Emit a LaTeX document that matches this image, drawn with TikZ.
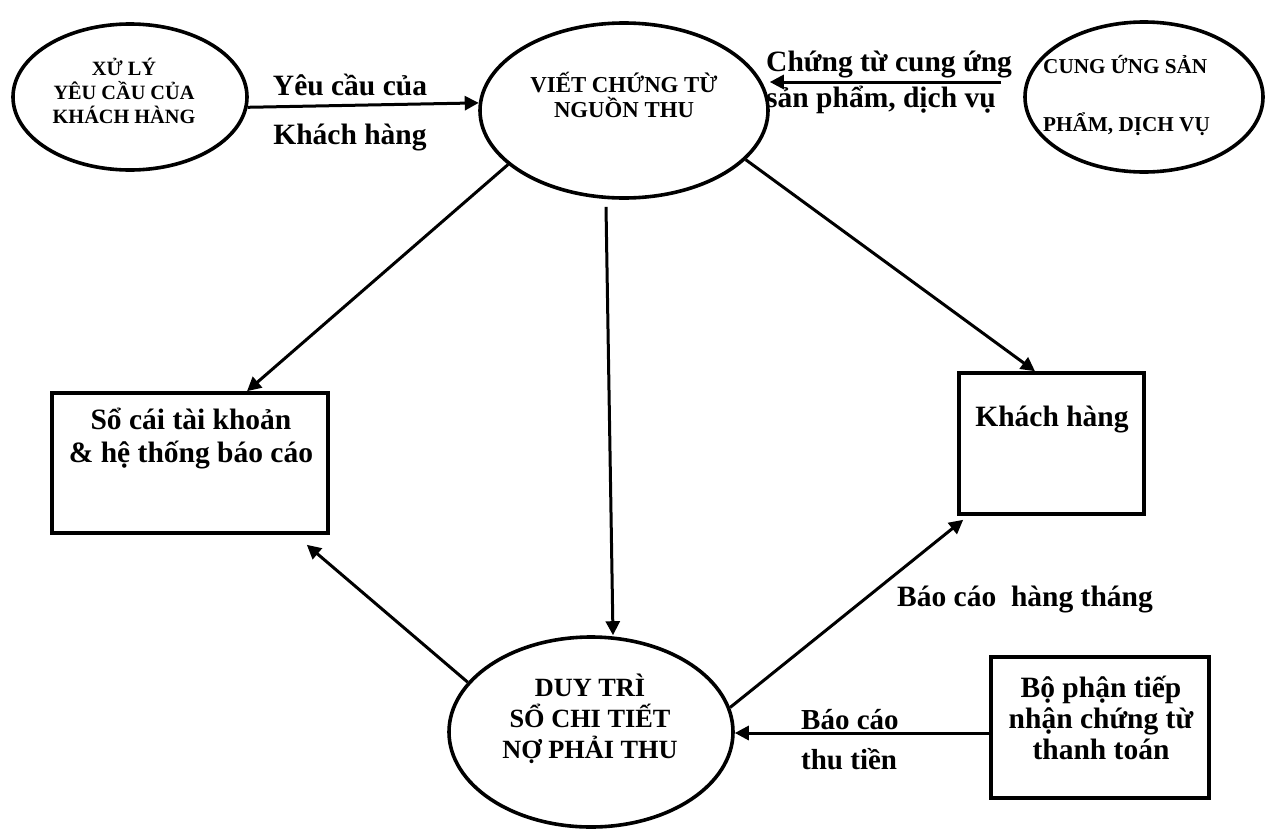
\documentclass[tikz,border=0pt]{standalone}
\usepackage{fontspec}
\setmainfont{Liberation Serif}
\usetikzlibrary{shapes.geometric,arrows.meta}

\tikzset{
  proc/.style={draw, ellipse, line width=3.6pt, inner sep=0pt},
  store/.style={draw, rectangle, line width=3.6pt, inner sep=0pt},
  flow/.style={line width=3pt, -{Triangle[length=14pt,width=14pt]}},
  ptext/.style={font=\bfseries\fontsize{20}{24}\selectfont, align=center, inner sep=0pt},
  lbl/.style={font=\bfseries\fontsize{29.5}{33}\selectfont, align=center, inner sep=0pt},
}

\begin{document}
\begin{tikzpicture}[x=1pt,y=-1pt]
\useasboundingbox (0,0) rectangle (1275,828);

% processes
\node[proc, minimum width=234pt, minimum height=146pt] (e1) at (130,97) {};
\node[proc, minimum width=288pt, minimum height=175pt] (e2) at (624,110.5) {};
\node[proc, minimum width=238pt, minimum height=150pt] (e3) at (1144,97) {};
\node[proc, minimum width=284pt, minimum height=190pt] (e4) at (591,732) {};

% stores / external entities
\node[store, minimum width=276pt, minimum height=140pt] (sc) at (190,463) {};
\node[store, minimum width=185pt, minimum height=141pt] (kh) at (1051.5,443.5) {};
\node[store, minimum width=218pt, minimum height=141pt] (bp) at (1100,727.5) {};

% texts inside shapes
\node[ptext, font=\bfseries\fontsize{20.3}{24}\selectfont] (t1) at (124,91) {XỬ LÝ\\YÊU CẦU CỦA\\KHÁCH HÀNG};
\node[ptext, font=\bfseries\fontsize{22.8}{25}\selectfont] (t2) at (624,95) {VIẾT CHỨNG TỪ\\NGUỒN THU};
\node[ptext, align=left, anchor=west, font=\bfseries\fontsize{21.2}{58}\selectfont] (t3) at (1043,95) {CUNG ỨNG SẢN\\PHẨM, DỊCH VỤ};
\node[ptext, font=\bfseries\fontsize{26.3}{31}\selectfont] (t4) at (590,719) {DUY TRÌ\\SỔ CHI TIẾT\\NỢ PHẢI THU};
\node[lbl] (tsc) at (191,439) {Sổ cái tài khoản\\\& hệ thống báo cáo};
\node[lbl] (tkh) at (1052,419) {Khách hàng};
\node[lbl, font=\bfseries\fontsize{29.5}{31}\selectfont] (tbp) at (1101,718) {Bộ phận tiếp\\nhận chứng từ\\thanh toán};

% flows
\draw[flow] (e1.-5) -- (e2.177);
\draw[flow] ([xshift=-22pt,yshift=15pt]e3.west) -- ([yshift=28.5pt]e2.east);
\draw[flow] (e2.205) -- ([xshift=57pt]sc.north);
\draw[flow] (e2.-22) -- ([xshift=-16.5pt]kh.north);
\draw[flow] ([xshift=-18pt,yshift=-7pt]e2.south) -- ([xshift=22pt]e4.north);
\draw[flow] (e4.158) -- ([xshift=-23pt,yshift=-10pt]sc.south east);
\draw[flow] (e4.10) -- ([xshift=6pt,yshift=-4pt]kh.south west);
\draw[flow] ([yshift=-5.5pt]bp.west) -- ([yshift=-1pt]e4.east);

% flow labels
\node[lbl] (l1) at (350,85) {Yêu cầu của};
\node[lbl] (l2) at (350,138) {Khách hàng};
\node[lbl, align=left, anchor=west, font=\bfseries\fontsize{29.5}{36}\selectfont] (l3) at (766,82) {Chứng từ cung ứng\\sản phẩm, dịch vụ};
\node[lbl] (l4) at (1025,599) {Báo cáo\ \ hàng tháng};
\node[lbl, align=left, anchor=west, font=\bfseries\fontsize{29}{40}\selectfont] (l5) at (801,740) {Báo cáo\\thu tiền};
\end{tikzpicture}
\end{document}
